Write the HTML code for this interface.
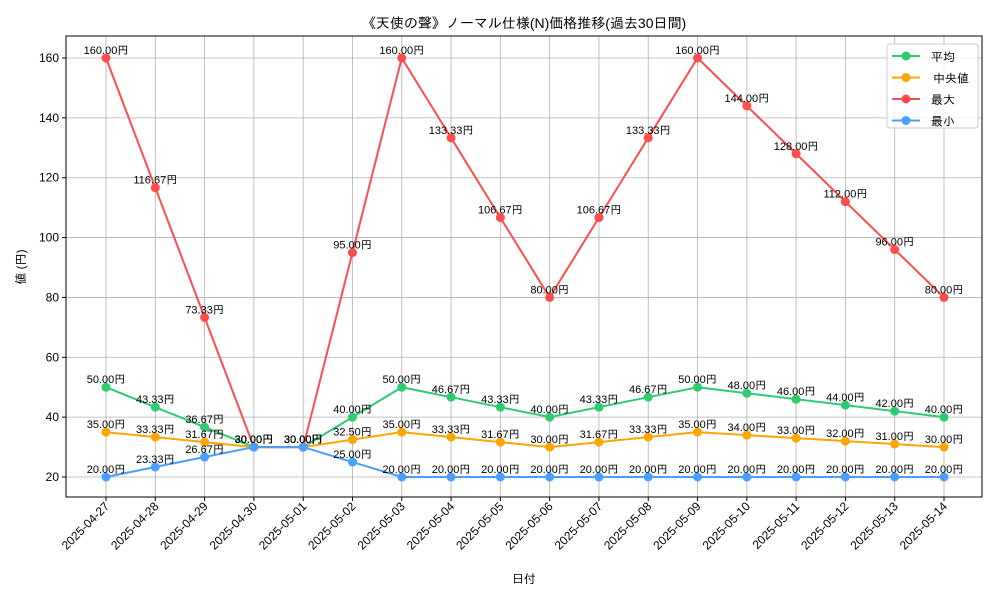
<!DOCTYPE html>
<html><head><meta charset="utf-8"><style>
body{margin:0;background:#fff;}
svg text{font-family:"Liberation Sans","IPAGothic","Noto Sans CJK JP",sans-serif;}
</style></head><body>
<svg id="c" width="1000" height="600" xmlns="http://www.w3.org/2000/svg"></svg>
<script>
const dates=["2025-04-27","2025-04-28","2025-04-29","2025-04-30","2025-05-01","2025-05-02","2025-05-03","2025-05-04","2025-05-05","2025-05-06","2025-05-07","2025-05-08","2025-05-09","2025-05-10","2025-05-11","2025-05-12","2025-05-13","2025-05-14"];
const avgVals=[50,43.33,36.67,30,30,40,50,46.67,43.33,40,43.33,46.67,50,48,46,44,42,40];
const medVals=[35,33.33,31.67,30,30,32.5,35,33.33,31.67,30,31.67,33.33,35,34,33,32,31,30];
const maxVals=[160,116.67,73.33,30,30,95,160,133.33,106.67,80,106.67,133.33,160,144,128,112,96,80];
const minVals=[20,23.33,26.67,30,30,25,20,20,20,20,20,20,20,20,20,20,20,20];
const yTicks=[20,40,60,80,100,120,140,160];
const seriesNames=["平均","中央値","最大","最小"];
const NS="http://www.w3.org/2000/svg";
const svg=document.getElementById('c');
const L=66,R=982,T=36,B=497;
const x=i=>106+i*(944-106)/(dates.length-1);
const y=v=>477-(v-20)*(477-58)/140;
function mk(t,a,p){const e=document.createElementNS(NS,t);for(const k in a)e.setAttribute(k,a[k]);(p||svg).appendChild(e);return e;}
// grid
dates.forEach((d,i)=>{const g=mk('line',{x1:x(i),x2:x(i),y1:T,y2:B,stroke:'#b0b0b0','stroke-width':0.8});


mk('line',{x1:x(i),x2:x(i),y1:B,y2:B+4,stroke:'#000'});
const t=mk('text',{x:0,y:0,'font-size':12,'text-anchor':'end',transform:`translate(${x(i)+4},${B+10}) rotate(-45)`});t.textContent=d;

});
yTicks.forEach(v=>{const g=mk('line',{x1:L,x2:R,y1:y(v),y2:y(v),stroke:'#b0b0b0','stroke-width':0.8});


mk('line',{x1:L-4,x2:L,y1:y(v),y2:y(v),stroke:'#000'});
const t=mk('text',{x:L-7,y:y(v)+4,'font-size':12,'text-anchor':'end'});t.textContent=v;

});
mk('rect',{x:L,y:T,width:R-L,height:B-T,fill:'none',stroke:'#000','stroke-width':1});
const series=[[avgVals,'#2ecc71'],[medVals,'#ffa500'],[maxVals,'#ff4d4d'],[minVals,'#4a9eff']];
series.forEach(([vals,col],si)=>{
const g=mk('g',{});


const p=mk('polyline',{points:vals.map((v,i)=>x(i)+','+y(v)).join(' '),fill:'none',stroke:col,'stroke-width':2},g);
vals.forEach((v,i)=>{const c=mk('circle',{cx:x(i),cy:y(v),r:4.5,fill:col},g);


const t=mk('text',{x:x(i),y:y(v)-4,'font-size':11,'text-anchor':'middle',fill:'#000'},g);t.textContent=v.toFixed(2)+'円';

});
});
// legend
const lg=mk('g',{});


mk('rect',{x:887,y:44,width:91,height:84,rx:3,fill:'#fff','fill-opacity':0.8,stroke:'#ccc'},lg);
series.forEach(([v,col],i)=>{const yy=56+i*21.5;
const e=mk('g',{},lg);


mk('line',{x1:892,x2:920,y1:yy,y2:yy,stroke:col,'stroke-width':2},e);
mk('circle',{cx:906,cy:yy,r:4.5,fill:col},e);
const t=mk('text',{x:i==1?933:931,y:yy+5,'font-size':12},e);t.textContent=seriesNames[i];});
let t=mk('text',{x:524,y:28,'font-size':14,'text-anchor':'middle'});t.textContent='《天使の聲》ノーマル仕様(N)価格推移(過去30日間)';

t=mk('text',{x:524,y:583,'font-size':12,'text-anchor':'middle'});t.textContent='日付';

t=mk('text',{x:0,y:0,'font-size':12,'text-anchor':'middle',transform:'translate(25,267) rotate(-90)'});t.textContent='値 (円)';

</script>
</body></html>
